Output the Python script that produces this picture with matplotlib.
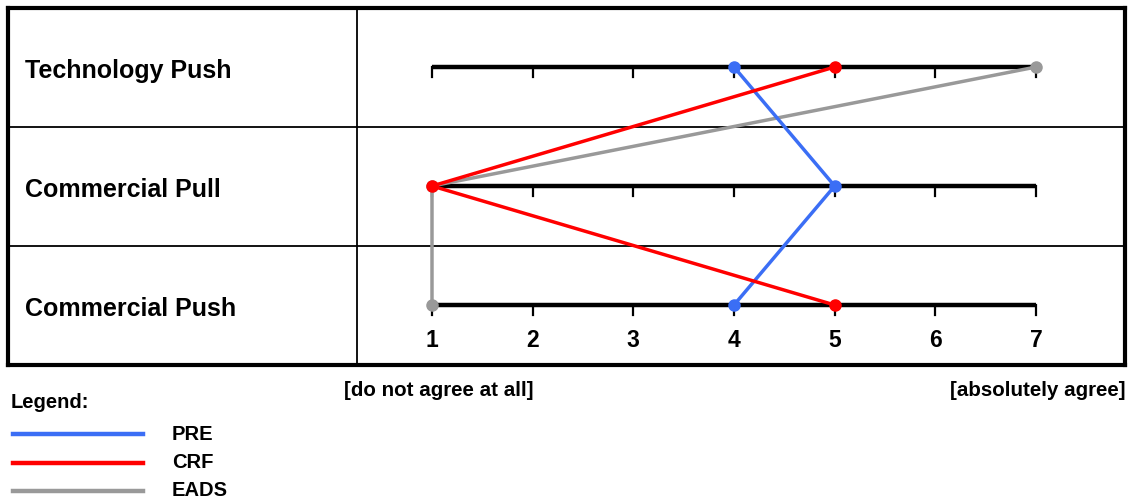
import numpy as np
import matplotlib
matplotlib.use("Agg")
import matplotlib.pyplot as plt
from matplotlib.lines import Line2D

plt.rcParams['font.family'] = ['Liberation Sans', 'DejaVu Sans']
plt.rcParams['font.weight'] = 'bold'

# --- data
categories = ["Technology Push", "Commercial Pull", "Commercial Push"]
scale_ticks = [1, 2, 3, 4, 5, 6, 7]
series_names = ["EADS", "PRE", "CRF"]          # draw order (CRF on top)
series_values = {
    "PRE": [4, 5, 4],
    "CRF": [5, 1, 5],
    "EADS": [7, 1, 1],
}
series_colors = {"PRE": "#3b6ef5", "CRF": "#ff0000", "EADS": "#999999"}
legend_order = ["PRE", "CRF", "EADS"]

W, H = 1129, 501
fig = plt.figure(figsize=(W / 100, H / 100), dpi=100)

# box in pixels: left 8, right 1125, top 8, bottom 365
ax = fig.add_axes([8 / W, (H - 365) / H, (1125 - 8) / W, (365 - 8) / H])
px_per_unit = (1036 - 432) / 6.0
row_px = 119.0
ax.set_xlim(1 - (432 - 8) / px_per_unit, 7 + (1125 - 1036) / px_per_unit)
ax.set_ylim(2 + (365 - 305) / row_px, 0 - (67 - 8) / row_px)
ax.set_xticks([])
ax.set_yticks([])
for sp in ax.spines.values():
    sp.set_linewidth(3.0)
    sp.set_color("black")

rows = np.arange(len(categories))

# table grid
x_div = 1 - (432 - 357) / px_per_unit
ax.axvline(x_div, color="black", lw=1.3)
for r in rows[:-1]:
    ax.axhline(r + 0.5, color="black", lw=1.3)

# category labels
x_lab = 1 - (432 - 25) / px_per_unit
for r, cat in zip(rows, categories):
    ax.text(x_lab, r + 0.03, cat, fontsize=18, fontweight="bold",
            ha="left", va="center")

# scales
tick_len = 10 / row_px
for r in rows:
    ax.plot([scale_ticks[0], scale_ticks[-1]], [r, r], color="black",
            lw=3.2, solid_capstyle="butt", zorder=2)
    for t in scale_ticks:
        ax.plot([t, t], [r, r + tick_len], color="black", lw=1.6, zorder=2)

# tick numbers under the last row
for t in scale_ticks:
    ax.text(t, rows[-1] + 0.3, str(t), fontsize=16.5, fontweight="bold",
            ha="center", va="center")

# profile lines
for name in series_names:
    ax.plot(series_values[name], rows, color=series_colors[name], lw=2.5,
            marker="o", markersize=8, zorder=3)

# annotations below the box
fig.text(439 / W, 1 - 390 / H, "[do not agree at all]", fontsize=14.8,
         fontweight="bold", ha="center", va="center")
fig.text(1126 / W, 1 - 390 / H, "[absolutely agree]", fontsize=14.8,
         fontweight="bold", ha="right", va="center")
fig.text(11 / W, 1 - 402 / H, "Legend:", fontsize=14.5, fontweight="bold",
         ha="left", va="center")

for i, name in enumerate(legend_order):
    y = 1 - (434 + 28.5 * i) / H
    fig.add_artist(Line2D([13 / W, 143 / W], [y, y], color=series_colors[name],
                          lw=3.2, transform=fig.transFigure))
    fig.text(172 / W, y, name, fontsize=14.5, fontweight="bold",
             ha="left", va="center")

fig.savefig("out.png", dpi=100)
